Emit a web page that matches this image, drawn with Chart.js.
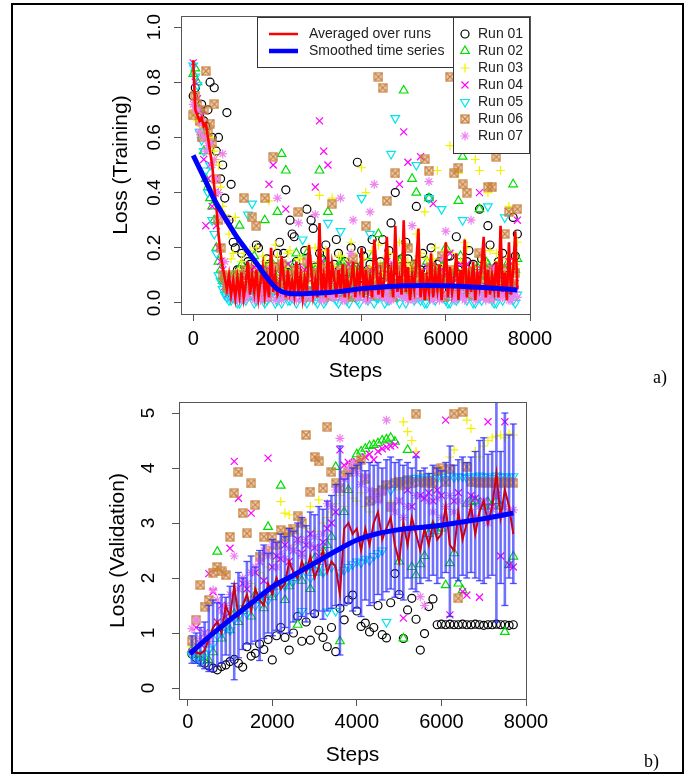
<!DOCTYPE html>
<html>
<head>
<meta charset="utf-8">
<script src="https://cdn.jsdelivr.net/npm/chart.js@4.4.1/dist/chart.umd.min.js"></script>
<style>
body { margin: 0; background: #fff; }
#wrap { position: relative; width: 688px; height: 775px; background: #fff; overflow: hidden; }
#frame { position: absolute; left: 11px; top: 3px; width: 673px; height: 771px; border: 2px solid #000; box-sizing: border-box; }
canvas { position: absolute; left: 0; }
.tag { position: absolute; font-family: "Liberation Serif", "Times New Roman", serif; font-size: 18px; color: #000; }
</style>
</head>
<body>
<div id="wrap">
  <div id="frame"></div>
  <canvas id="train" width="688" height="388" style="top:0;width:688px;height:388px"></canvas>
  <canvas id="valid" width="688" height="387" style="top:388px;width:688px;height:387px"></canvas>
  <div class="tag" style="left:653px;top:367px">a)</div>
  <div class="tag" style="left:644px;top:751px">b)</div>
</div>
<script>
/* two panels: training loss (a) and validation loss (b) of 7 runs */

const runNames = ['Run 01', 'Run 02', 'Run 03', 'Run 04', 'Run 05', 'Run 06', 'Run 07'];
const lineNames = ['Averaged over runs', 'Smoothed time series'];
const stepTicks = [0, 2000, 4000, 6000, 8000];
const trainTicks = [0, 0.2, 0.4, 0.6, 0.8, 1.0];
const validTicks = [0, 1, 2, 3, 4, 5];

// panel a - run points every 100 steps, plus the ones in between
const trainSteps = [0,100,200,300,400,500,600,700,800,900,1000,1100,1200,1300,1400,1500,1600,1700,1800,1900,
  2000,2100,2200,2300,2400,2500,2600,2700,2800,2900,3000,3100,3200,3300,3400,3500,3600,3700,3800,3900,
  4000,4100,4200,4300,4400,4500,4600,4700,4800,4900,5000,5100,5200,5300,5400,5500,5600,5700,5800,5900,
  6000,6100,6200,6300,6400,6500,6600,6700,6800,6900,7000,7100,7200,7300,7400,7500,7600,7700];
const trainMidSteps = [50,150,250,350,450,550,650,750,850,950,1050,1150,1250,1350,1450,1550,1650,1750,1850,1950,
  2050,2150,2250,2350,2450,2550,2650,2750,2850,2950,3050,3150,3250,3350,3450,3550,3650,3750,3850,3950,
  4050,4150,4250,4350,4450,4550,4650,4750,4850,4950,5050,5150,5250,5350,5450,5550,5650,5750,5850,5950,
  6050,6150,6250,6350,6450,6550,6650,6750,6850,6950,7050,7150,7250,7350,7450,7550,7650];

const trainRun01 = [0.75,0.70,0.72,0.64,0.80,0.78,0.60,0.50,0.69,
  0.43,0.20,0.12,0.08,0.15,0.06,0.21,0.10,0.05,
  0.14,0.09,0.18,0.07,0.41,0.30,0.24,0.11,0.06,
  0.34,0.30,0.13,0.18,0.09,0.05,0.12,0.23,0.08,
  0.15,0.06,0.10,0.51,0.19,0.07,0.14,0.09,0.12,
  0.23,0.05,0.29,0.40,0.11,0.08,0.16,0.07,0.35,
  0.12,0.06,0.38,0.10,0.14,0.05,0.09,0.17,0.08,
  0.12,0.06,0.15,0.09,0.07,0.34,0.11,0.28,0.06,
  0.13,0.08,0.10,0.05,0.31,0.25];
const trainRun02 = [0.83,0.80,0.62,0.45,0.38,0.30,0.15,0.08,0.05,
  0.04,0.10,0.28,0.06,0.02,0.12,0.04,0.08,0.30,
  0.03,0.11,0.33,0.54,0.48,0.05,0.14,0.02,0.09,
  0.18,0.04,0.12,0.48,0.06,0.33,0.02,0.10,0.15,
  0.03,0.08,0.13,0.05,0.02,0.11,0.07,0.04,0.25,
  0.09,0.03,0.12,0.06,0.15,0.77,0.04,0.45,0.40,
  0.08,0.02,0.38,0.10,0.05,0.13,0.20,0.03,0.09,
  0.37,0.53,0.06,0.11,0.02,0.34,0.08,0.14,0.05,
  0.10,0.03,0.12,0.07,0.43,0.16];
const trainRun03 = [0.70,0.66,0.64,0.62,0.60,0.55,0.50,0.35,0.30,
  0.16,0.31,0.12,0.18,0.07,0.14,0.20,0.09,0.15,
  0.37,0.10,0.17,0.06,0.13,0.19,0.08,0.16,0.11,
  0.07,0.15,0.20,0.39,0.10,0.14,0.38,0.09,0.17,
  0.12,0.06,0.18,0.10,0.49,0.40,0.13,0.08,0.21,
  0.11,0.17,0.07,0.14,0.22,0.09,0.15,0.12,0.25,
  0.18,0.33,0.10,0.16,0.48,0.08,0.19,0.57,0.13,
  0.47,0.11,0.20,0.09,0.52,0.48,0.15,0.40,0.12,
  0.18,0.48,0.10,0.35,0.14,0.22];
const trainRun04 = [0.87,0.74,0.68,0.28,0.50,0.40,0.20,0.12,0.03,
  0.02,0.06,0.01,0.09,0.03,0.12,0.05,0.02,0.08,
  0.43,0.50,0.04,0.10,0.34,0.02,0.07,0.13,0.03,
  0.09,0.05,0.42,0.66,0.55,0.50,0.04,0.11,0.02,
  0.08,0.14,0.03,0.06,0.10,0.02,0.12,0.05,0.09,
  0.03,0.15,0.06,0.02,0.43,0.62,0.51,0.08,0.04,
  0.53,0.10,0.03,0.36,0.07,0.12,0.02,0.18,0.05,
  0.09,0.03,0.14,0.06,0.10,0.40,0.02,0.08,0.13,
  0.04,0.09,0.03,0.15,0.06,0.30];
const trainRun05 = [0.86,0.79,0.59,0.48,0.50,0.25,0.10,0.05,0.02,
  0.01,0.03,0.00,0.02,0.32,0.36,0.01,0.04,0.00,
  0.02,0.05,0.01,0.00,0.03,0.01,0.06,0.02,0.23,
  0.00,0.04,0.01,0.02,0.00,0.29,0.03,0.01,0.26,
  0.02,0.00,0.05,0.01,0.38,0.03,0.25,0.00,0.02,
  0.04,0.01,0.54,0.67,0.00,0.03,0.02,0.05,0.50,
  0.01,0.00,0.38,0.02,0.04,0.34,0.01,0.00,0.03,
  0.02,0.30,0.01,0.05,0.00,0.02,0.03,0.35,0.01,
  0.00,0.04,0.31,0.02,0.01,0.03];
const trainRun06 = [0.68,0.72,0.60,0.84,0.65,0.72,0.30,0.10,0.06,
  0.08,0.04,0.10,0.38,0.06,0.31,0.28,0.09,0.38,
  0.12,0.53,0.05,0.14,0.08,0.03,0.10,0.33,0.07,
  0.15,0.04,0.11,0.06,0.02,0.09,0.36,0.05,0.12,
  0.03,0.08,0.16,0.04,0.10,0.28,0.06,0.11,0.82,
  0.78,0.37,0.05,0.47,0.13,0.07,0.20,0.03,0.14,
  0.09,0.52,0.48,0.12,0.05,0.17,0.08,0.82,0.47,
  0.49,0.43,0.40,0.10,0.06,0.18,0.09,0.42,0.42,
  0.53,0.12,0.25,0.33,0.07,0.34];
const trainRun07 = [0.72,0.70,0.65,0.55,0.58,0.52,0.40,0.54,0.30,
  0.05,0.02,0.04,0.01,0.03,0.06,0.02,0.01,0.04,
  0.02,0.05,0.38,0.01,0.03,0.02,0.04,0.29,0.01,
  0.03,0.02,0.32,0.05,0.01,0.04,0.02,0.03,0.38,
  0.01,0.04,0.30,0.02,0.05,0.01,0.33,0.43,0.03,
  0.02,0.04,0.01,0.03,0.06,0.02,0.01,0.28,0.04,
  0.02,0.05,0.44,0.01,0.03,0.02,0.26,0.04,0.01,
  0.03,0.02,0.05,0.30,0.01,0.04,0.02,0.03,0.01,
  0.05,0.02,0.04,0.01,0.03,0.02];

const trainMid01 = [0.78,0.68,0.66,0.70,0.60,0.55,0.45,0.38,0.30,0.22,0.12,
  0.18,0.10,0.14,0.07,0.20,0.12,0.16,0.09,0.13,0.22,0.18,
  0.11,0.25,0.15,0.08,0.19,0.12,0.27,0.10,0.16,0.21,0.09,
  0.14,0.18,0.11,0.06,0.20,0.13,0.09,0.17,0.12,0.23,0.08,
  0.15,0.10,0.19,0.13,0.07,0.16,0.22,0.11,0.14,0.09,0.18,
  0.12,0.20,0.08,0.15,0.11,0.17,0.09,0.24,0.13,0.10,0.19,
  0.14,0.08,0.16,0.12,0.21,0.10,0.15,0.18,0.09,0.13,0.17];
const trainMid02 = [0.85,0.70,0.55,0.42,0.35,0.20,0.12,0.08,0.06,0.10,0.05,
  0.14,0.03,0.09,0.17,0.06,0.12,0.04,0.15,0.08,0.11,0.03,
  0.13,0.07,0.18,0.05,0.10,0.14,0.04,0.09,0.16,0.06,0.12,
  0.03,0.08,0.15,0.05,0.11,0.07,0.13,0.04,0.10,0.17,0.06,
  0.09,0.14,0.03,0.12,0.07,0.16,0.05,0.10,0.13,0.04,0.08,
  0.15,0.06,0.11,0.03,0.14,0.09,0.05,0.12,0.17,0.07,0.10,
  0.04,0.13,0.08,0.15,0.06,0.11,0.03,0.09,0.14,0.05,0.12];
const trainMid03 = [0.68,0.65,0.63,0.60,0.57,0.52,0.42,0.32,0.25,0.18,0.10,
  0.15,0.08,0.19,0.12,0.06,0.17,0.10,0.14,0.21,0.09,0.13,
  0.18,0.07,0.12,0.16,0.10,0.20,0.08,0.14,0.11,0.19,0.06,
  0.13,0.17,0.09,0.15,0.22,0.11,0.07,0.16,0.12,0.19,0.10,
  0.14,0.08,0.18,0.12,0.15,0.09,0.21,0.13,0.07,0.17,0.11,
  0.16,0.10,0.20,0.08,0.14,0.12,0.18,0.09,0.15,0.22,0.11,
  0.13,0.07,0.17,0.10,0.19,0.12,0.15,0.08,0.16,0.11,0.14];
const trainMid04 = [0.80,0.70,0.52,0.45,0.35,0.28,0.15,0.06,0.04,0.02,0.07,
  0.03,0.10,0.05,0.13,0.02,0.08,0.04,0.11,0.06,0.03,0.09,
  0.14,0.04,0.07,0.02,0.12,0.05,0.09,0.03,0.15,0.06,0.08,
  0.02,0.11,0.04,0.07,0.13,0.03,0.10,0.05,0.08,0.02,0.12,
  0.06,0.04,0.09,0.14,0.03,0.07,0.11,0.05,0.02,0.10,0.06,
  0.13,0.04,0.08,0.03,0.11,0.05,0.09,0.02,0.14,0.07,0.04,
  0.10,0.03,0.12,0.06,0.08,0.02,0.11,0.05,0.09,0.03,0.07];
const trainMid05 = [0.82,0.62,0.55,0.40,0.30,0.18,0.08,0.03,0.01,0.02,0.00,
  0.04,0.01,0.03,0.00,0.05,0.02,0.01,0.04,0.00,0.03,0.06,
  0.01,0.02,0.00,0.04,0.01,0.05,0.02,0.00,0.03,0.01,0.04,
  0.02,0.00,0.06,0.01,0.03,0.02,0.00,0.04,0.01,0.05,0.02,
  0.03,0.00,0.01,0.04,0.02,0.06,0.00,0.03,0.01,0.02,0.05,
  0.00,0.04,0.01,0.03,0.02,0.00,0.05,0.01,0.04,0.02,0.03,
  0.00,0.06,0.01,0.02,0.04,0.00,0.03,0.01,0.05,0.02,0.00];
const trainMid06 = [0.75,0.66,0.70,0.62,0.58,0.45,0.20,0.09,0.05,0.10,0.07,
  0.03,0.12,0.06,0.09,0.04,0.11,0.02,0.08,0.13,0.05,0.10,
  0.03,0.07,0.12,0.04,0.09,0.02,0.11,0.06,0.08,0.13,0.03,
  0.10,0.05,0.07,0.12,0.02,0.09,0.04,0.11,0.06,0.08,0.03,
  0.13,0.05,0.10,0.02,0.07,0.12,0.04,0.09,0.06,0.11,0.03,
  0.08,0.13,0.05,0.10,0.02,0.07,0.12,0.04,0.09,0.06,0.11,
  0.03,0.08,0.05,0.12,0.02,0.10,0.07,0.04,0.09,0.06,0.11];
const trainMid07 = [0.70,0.62,0.60,0.57,0.50,0.45,0.32,0.15,0.08,0.03,0.01,
  0.04,0.02,0.06,0.01,0.03,0.05,0.02,0.12,0.01,0.04,0.03,
  0.06,0.02,0.01,0.05,0.03,0.15,0.02,0.04,0.01,0.06,0.03,
  0.02,0.05,0.01,0.04,0.18,0.03,0.02,0.06,0.01,0.04,0.03,
  0.05,0.02,0.01,0.14,0.04,0.03,0.06,0.02,0.01,0.05,0.03,
  0.04,0.02,0.06,0.01,0.16,0.03,0.05,0.02,0.04,0.01,0.06,
  0.03,0.02,0.05,0.01,0.04,0.12,0.03,0.02,0.06,0.01,0.04];

// red averaged curve of panel a, every 50 steps
const trainAvgSteps = [0,50,100,150,200,250,300,350,400,450,500,550,600,650,700,750,800,850,900,950,
  1000,1050,1100,1150,1200,1250,1300,1350,1400,1450,1500,1550,1600,1650,1700,1750,1800,1850,1900,1950,
  2000,2050,2100,2150,2200,2250,2300,2350,2400,2450,2500,2550,2600,2650,2700,2750,2800,2850,2900,2950,
  3000,3050,3100,3150,3200,3250,3300,3350,3400,3450,3500,3550,3600,3650,3700,3750,3800,3850,3900,3950,
  4000,4050,4100,4150,4200,4250,4300,4350,4400,4450,4500,4550,4600,4650,4700,4750,4800,4850,4900,4950,
  5000,5050,5100,5150,5200,5250,5300,5350,5400,5450,5500,5550,5600,5650,5700,5750,5800,5850,5900,5950,
  6000,6050,6100,6150,6200,6250,6300,6350,6400,6450,6500,6550,6600,6650,6700,6750,6800,6850,6900,6950,
  7000,7050,7100,7150,7200,7250,7300,7350,7400,7450,7500,7550,7600,7650,7700];
const trainAvg = [0.88,0.70,0.68,0.66,0.67,0.64,0.65,0.60,0.55,0.50,
  0.42,0.35,0.25,0.18,0.13,0.09,0.05,0.10,0.03,0.08,
  0.02,0.09,0.03,0.11,0.02,0.07,0.15,0.03,0.10,0.04,
  0.12,0.02,0.08,0.13,0.03,0.09,0.02,0.20,0.04,0.10,
  0.03,0.05,0.17,0.09,0.02,0.12,0.04,0.08,0.03,0.15,
  0.03,0.10,0.02,0.09,0.04,0.21,0.13,0.03,0.08,0.02,
  0.29,0.04,0.10,0.02,0.20,0.03,0.14,0.09,0.02,0.12,
  0.05,0.14,0.02,0.10,0.04,0.08,0.15,0.02,0.11,0.06,
  0.20,0.02,0.12,0.04,0.09,0.02,0.23,0.14,0.03,0.10,
  0.02,0.12,0.24,0.05,0.11,0.02,0.28,0.04,0.09,0.03,
  0.30,0.04,0.13,0.01,0.10,0.05,0.15,0.27,0.02,0.12,
  0.01,0.09,0.04,0.18,0.02,0.11,0.05,0.14,0.01,0.10,
  0.22,0.02,0.13,0.04,0.09,0.18,0.01,0.12,0.05,0.23,
  0.02,0.10,0.04,0.15,0.01,0.11,0.06,0.14,0.24,0.02,
  0.12,0.03,0.10,0.05,0.15,0.02,0.28,0.04,0.11,0.01,
  0.22,0.03,0.12,0.26,0.05];

const trainSmoothSteps = [0,250,500,750,1000,1250,1500,1750,2000,2250,2500,3000,3500,4000,4500,5000,5500,6000,6500,7000,7500,7700];
const trainSmooth = [0.535,0.456,0.375,0.31,0.248,0.195,0.145,0.092,0.05,0.035,0.033,0.036,0.042,0.052,0.058,0.062,0.063,0.062,0.059,0.055,0.05,0.047];

// panel b - validation every 100 steps
const validSteps = [100,200,300,400,500,600,700,800,900,1000,1100,1200,1300,1400,1500,1600,1700,1800,1900,
  2000,2100,2200,2300,2400,2500,2600,2700,2800,2900,3000,3100,3200,3300,3400,3500,3600,3700,3800,3900,
  4000,4100,4200,4300,4400,4500,4600,4700,4800,4900,5000,5100,5200,5300,5400,5500,5600,5700,5800,5900,
  6000,6100,6200,6300,6400,6500,6600,6700,6800,6900,7000,7100,7200,7300,7400,7500,7600,7700];

const validRun01 = [0.62,0.55,0.50,0.45,0.40,0.36,0.33,0.39,0.42,0.48,0.52,
  0.45,0.38,0.75,0.58,0.63,0.80,0.70,0.88,0.51,0.95,1.10,
  0.92,0.69,1.00,1.30,0.85,1.20,0.87,1.35,1.05,0.92,0.75,
  1.10,0.66,1.45,1.24,1.60,1.69,1.40,1.12,1.18,1.02,1.10,
  1.50,0.97,0.91,1.55,2.08,1.70,0.90,1.42,1.63,1.25,0.69,
  0.99,1.48,1.62,1.15,1.16,1.15,1.16,1.15,1.15,1.16,1.15,
  1.15,1.16,1.15,1.14,1.15,1.15,1.16,1.15,1.15,1.14,1.15];
const validRun02 = [0.70,0.62,0.58,0.55,0.50,0.65,2.48,0.90,1.10,1.05,1.35,
  1.20,1.40,1.55,1.30,1.70,1.60,1.45,2.93,1.65,1.90,3.68,
  1.60,1.85,2.00,1.15,1.95,2.20,1.80,2.35,2.10,2.50,2.60,
  2.75,4.02,0.85,3.20,3.60,4.10,4.25,4.30,4.35,4.40,4.42,
  4.45,4.50,4.52,4.55,4.48,2.30,0.90,4.33,2.20,2.05,2.25,
  2.40,2.80,2.95,2.85,2.90,1.87,2.27,2.45,1.90,1.78,3.35,
  3.38,3.40,3.35,3.30,3.38,3.32,3.40,3.30,1.02,2.24,2.39];
const validRun03 = [0.75,0.68,0.60,0.90,0.85,1.05,1.20,1.10,1.30,1.25,1.60,
  1.50,1.75,1.65,1.90,1.80,2.10,2.00,2.20,2.40,2.30,3.39,
  3.18,3.15,2.60,2.80,2.70,2.90,3.30,2.85,3.42,3.00,3.10,
  3.20,3.35,3.50,3.30,3.60,3.45,3.40,3.55,3.30,3.20,3.45,
  3.60,3.50,3.70,3.40,3.80,3.60,4.84,4.66,4.50,4.30,3.90,
  3.70,3.85,3.60,3.75,3.90,4.00,4.20,4.33,3.80,4.10,4.87,
  4.72,4.30,4.20,4.40,4.50,4.55,4.58,4.60,4.55,4.62,4.60];
const validRun04 = [0.65,1.10,0.80,1.00,2.08,1.75,1.20,1.50,1.30,2.54,4.12,
  3.45,1.90,1.80,3.18,2.10,2.30,1.95,4.18,2.20,2.40,2.35,
  2.60,2.30,2.50,2.70,2.45,2.60,2.80,2.55,2.40,2.65,2.90,
  3.00,3.20,4.33,4.05,4.10,4.08,4.12,4.15,4.20,4.25,4.15,
  4.30,4.35,4.38,4.40,4.42,3.40,1.27,3.60,3.30,4.24,3.50,
  3.45,3.55,3.40,3.60,3.50,4.87,1.33,3.40,3.55,1.75,1.69,
  3.50,3.45,1.65,3.40,4.84,3.30,3.50,2.40,4.84,2.24,2.20];
const validRun05 = [0.60,0.55,0.48,0.62,0.70,0.80,0.95,1.00,1.10,1.05,1.25,
  1.30,1.45,1.35,1.55,1.50,1.65,1.70,1.60,1.80,1.75,1.90,
  1.85,2.00,1.95,2.05,1.40,2.10,2.00,2.15,2.20,2.10,1.39,
  2.20,1.40,2.10,2.15,2.20,2.25,2.30,2.28,2.35,2.32,2.40,
  2.45,2.50,1.20,3.60,3.70,3.75,3.78,3.80,3.78,3.82,3.80,
  3.83,3.80,3.85,3.82,3.84,3.80,3.86,3.83,3.85,3.84,3.82,
  3.85,3.83,3.86,3.84,3.85,3.82,3.86,3.84,3.85,3.83,3.85];
const validRun06 = [0.85,1.24,1.87,1.48,1.60,2.10,2.20,2.12,2.05,2.75,3.54,
  3.93,3.18,2.81,3.72,3.33,2.39,2.75,2.50,2.75,2.60,2.87,
  2.75,2.84,2.90,3.12,3.00,4.60,3.57,4.20,4.12,3.63,4.75,
  3.93,3.72,3.63,3.87,3.93,4.00,4.05,4.15,3.80,3.40,3.55,
  3.45,3.60,3.69,3.30,3.72,3.75,3.70,3.78,3.72,4.99,3.74,
  3.73,3.76,3.72,3.95,4.00,3.74,3.99,4.99,1.63,5.02,4.02,
  3.75,3.74,3.73,3.75,3.72,3.74,3.73,3.75,3.72,3.74,3.73];
const validRun07 = [1.08,1.24,0.90,1.00,0.85,1.78,1.60,1.40,1.50,1.70,2.40,
  1.80,2.00,1.90,2.10,2.20,2.30,2.50,2.40,2.60,2.20,2.45,
  2.35,2.55,2.50,2.65,2.40,2.70,2.60,2.75,2.55,2.80,3.35,
  3.30,3.60,4.54,3.80,4.00,4.10,3.90,3.70,3.85,3.60,3.50,
  3.40,3.55,4.87,3.30,3.20,3.40,3.10,3.30,2.90,3.50,1.66,
  1.50,3.40,3.20,3.45,3.10,3.30,3.50,3.20,3.40,3.00,3.35,
  3.20,3.10,3.30,3.40,3.00,3.25,3.50,3.15,3.30,3.20,3.24];

const validAvg = [0.70,0.65,0.62,0.68,0.90,1.10,1.20,1.00,1.50,1.30,1.85,
  1.30,1.50,1.70,1.40,1.80,1.60,1.50,1.90,1.70,2.00,1.80,
  1.90,2.30,2.10,2.00,2.30,2.10,2.40,2.00,2.20,2.50,2.10,
  2.30,2.20,1.70,2.90,3.00,2.80,2.90,2.50,2.90,2.60,3.00,
  3.20,2.70,2.90,3.10,2.60,2.30,3.00,2.60,3.10,2.80,2.50,
  2.90,2.60,3.00,2.70,2.80,3.30,2.60,2.50,3.20,2.70,3.00,
  3.30,2.80,3.20,3.40,3.00,3.30,3.90,3.10,3.60,3.30,2.80];
const validLow = [0.45,0.45,0.40,0.35,0.30,0.30,0.40,0.45,0.60,0.50,0.15,
  0.55,0.70,0.80,0.80,0.85,0.50,0.90,1.00,0.95,1.05,1.00,
  1.10,1.00,1.20,1.25,1.30,1.20,1.35,1.30,1.40,1.25,1.40,
  1.45,1.50,0.60,1.50,1.55,1.40,1.45,1.30,1.60,1.50,1.55,
  1.70,1.60,1.75,1.80,1.65,1.70,1.60,2.00,1.80,1.75,1.90,
  2.00,1.95,2.05,1.90,2.00,2.10,1.30,2.00,1.95,2.05,2.00,
  2.10,2.00,1.95,1.90,2.00,2.05,1.20,1.90,1.50,2.00,1.90];
const validHigh = [0.95,1.00,1.10,1.20,1.50,1.60,1.55,1.70,1.65,1.85,1.90,
  2.10,2.00,2.30,2.40,2.20,2.50,2.60,2.45,2.70,2.65,2.80,
  2.75,2.90,2.85,3.00,3.10,2.95,3.20,3.15,3.30,3.25,3.40,
  3.50,3.70,4.40,3.80,3.90,4.00,4.05,4.10,3.95,4.10,4.05,
  4.10,4.00,4.15,4.20,4.10,4.15,4.05,4.10,4.00,4.20,3.95,
  4.00,3.90,4.05,4.00,3.95,4.10,4.40,4.05,4.15,4.20,4.10,
  4.20,4.30,4.50,4.55,4.25,4.30,5.20,4.30,5.00,4.60,4.80];

const validSmoothSteps = [50,500,1000,1500,2000,2500,3000,3500,4000,4500,5000,5500,6000,6500,7000,7500,7700];
const validSmooth = [0.62,0.93,1.24,1.54,1.84,2.05,2.27,2.49,2.69,2.81,2.88,2.92,2.96,3.02,3.08,3.15,3.18];

const trainRuns = [trainRun01, trainRun02, trainRun03, trainRun04, trainRun05, trainRun06, trainRun07];
const trainMids = [trainMid01, trainMid02, trainMid03, trainMid04, trainMid05, trainMid06, trainMid07];
const validRuns = [validRun01, validRun02, validRun03, validRun04, validRun05, validRun06, validRun07];

Chart.defaults.font.family = "'Liberation Sans', Arial, Helvetica, sans-serif";
Chart.defaults.color = '#000';

// pch 7 lookalike: square with a cross inside
function squareCross(color) {
    const c = document.createElement('canvas');
    c.width = 10;
    c.height = 10;
    const g = c.getContext('2d');
    g.fillStyle = 'rgba(205, 133, 63, 0.35)';
    g.fillRect(1, 1, 8, 8);
    g.strokeStyle = color;
    g.lineWidth = 1.2;
    g.strokeRect(1, 1, 8, 8);
    g.beginPath();
    g.moveTo(1, 1); g.lineTo(9, 9);
    g.moveTo(9, 1); g.lineTo(1, 9);
    g.stroke();
    return c;
}

const runLook = [
    { style: 'circle', color: '#000000', radius: 4, rotation: 0 },
    { style: 'triangle', color: '#00dd00', radius: 5, rotation: 0 },
    { style: 'cross', color: '#f2f200', radius: 4.5, rotation: 0 },
    { style: 'crossRot', color: '#ff00ff', radius: 5, rotation: 0 },
    { style: 'triangle', color: '#00e5ee', radius: 5, rotation: 180 },
    { style: squareCross('#c8813f'), color: '#c8813f', radius: 5, rotation: 0 },
    { style: 'star', color: '#ee82ee', radius: 4.5, rotation: 0 }
];

// stepSets / runSets: pairs of (x array, list of 7 run arrays)
function runDatasets(stepSets, runSets, firstOrder) {
    return runNames.map((name, k) => {
        let data = [];
        stepSets.forEach((steps, j) => {
            data = data.concat(steps.map((s, i) => ({ x: s, y: runSets[j][k][i] })));
        });
        return {
            label: name,
            data: data,
            pointStyle: runLook[k].style,
            pointRotation: runLook[k].rotation,
            pointRadius: runLook[k].radius,
            pointBorderColor: runLook[k].color,
            pointBackgroundColor: 'rgba(0,0,0,0)',
            pointBorderWidth: 1.2,
            showLine: false,
            order: firstOrder + (runNames.length - 1 - k)
        };
    });
}

function lineDataset(label, steps, values, color, width, smooth, order) {
    return {
        label: label,
        data: steps.map((s, i) => ({ x: s, y: values[i] })),
        showLine: true,
        borderColor: color,
        borderWidth: width,
        pointRadius: 0,
        tension: smooth ? 0.4 : 0,
        cubicInterpolationMode: smooth ? 'monotone' : 'default',
        order: order
    };
}

function stepScale(min, tickPad, titlePad, height) {
    return {
        type: 'linear', position: 'bottom', min: min, max: 8000, bounds: 'data',
        afterBuildTicks: s => { s.ticks = stepTicks.map(v => ({ value: v })); },
        afterFit: s => { s.height = height; s.paddingLeft = 0; s.paddingRight = 0; },
        ticks: { font: { size: 20 }, padding: tickPad, maxRotation: 0, minRotation: 0, autoSkip: false, callback: v => String(v) },
        grid: { drawOnChartArea: false, color: '#555', tickLength: 7, tickWidth: 1 },
        border: { display: false },
        title: { display: true, text: 'Steps', font: { size: 21 }, padding: { top: 0, bottom: titlePad } }
    };
}

function lossScale(min, max, tickVals, digits, text, tickPad, titlePad, width) {
    return {
        type: 'linear', position: 'left', min: min, max: max, bounds: 'data',
        afterBuildTicks: s => { s.ticks = tickVals.map(v => ({ value: v })); },
        afterFit: s => { s.width = width; s.paddingTop = 0; s.paddingBottom = 0; },
        ticks: { font: { size: 19 }, padding: tickPad, minRotation: 90, maxRotation: 90, crossAlign: 'center', autoSkip: false, callback: v => v.toFixed(digits) },
        grid: { drawOnChartArea: false, color: '#555', tickLength: 7, tickWidth: 1 },
        border: { display: false },
        title: { display: true, text: text, font: { size: 21 }, padding: { top: titlePad, bottom: 0 } }
    };
}

const boxPlugin = {
    id: 'plotBox',
    afterDatasetsDraw(chart) {
        const a = chart.chartArea;
        const ctx = chart.ctx;
        ctx.save();
        ctx.strokeStyle = '#555';
        ctx.lineWidth = 1;
        ctx.strokeRect(Math.round(a.left) + 0.5, Math.round(a.top) + 0.5, Math.round(a.right - a.left), Math.round(a.bottom - a.top));
        ctx.restore();
    }
};

// R style legends: line legend box + run symbol box, top right
const legendPlugin = {
    id: 'rLegend',
    afterDraw(chart) {
        const ctx = chart.ctx;
        const a = chart.chartArea;
        const ds = chart.data.datasets;
        const rowH = 17;
        const rw = 76, rh = rowH * runNames.length + 17;
        const rx = Math.round(a.right) - rw - 1, ry = Math.round(a.top) + 1;
        const lw = 196, lh = 50;
        const lx = rx - lw, ly = ry;
        ctx.save();
        ctx.font = "14px 'Liberation Sans', Arial, sans-serif";
        ctx.textBaseline = 'middle';
        ctx.textAlign = 'left';
        ctx.lineWidth = 1;
        ctx.fillStyle = '#fff';
        ctx.fillRect(lx, ly, lw, lh);
        ctx.fillRect(rx, ry, rw, rh);
        ctx.strokeStyle = '#333';
        ctx.strokeRect(lx + 0.5, ly + 0.5, lw, lh);
        ctx.strokeRect(rx + 0.5, ry + 0.5, rw, rh);

        lineNames.forEach((name, i) => {
            const d = ds.find(x => x.label === name);
            const y = ly + rowH * (i + 1);
            ctx.strokeStyle = d.borderColor;
            ctx.lineWidth = i === 0 ? 2.5 : 4.5;
            ctx.beginPath();
            ctx.moveTo(lx + 12, y);
            ctx.lineTo(lx + 41, y);
            ctx.stroke();
            ctx.fillStyle = '#222';
            ctx.fillText(name, lx + 52, y);
        });

        runNames.forEach((name, k) => {
            const y = ry + rowH * (k + 1);
            ctx.strokeStyle = runLook[k].color;
            ctx.fillStyle = 'rgba(0,0,0,0)';
            ctx.lineWidth = 1.2;
            Chart.helpers.drawPoint(ctx, { pointStyle: runLook[k].style, rotation: runLook[k].rotation, radius: runLook[k].radius, borderWidth: 1.2 }, rx + 12, y);
            ctx.fillStyle = '#222';
            ctx.fillText(name, rx + 25, y);
        });
        ctx.restore();
    }
};

const common = {
    responsive: false,
    animation: false,
    events: [],
    plugins: { legend: { display: false }, tooltip: { enabled: false } }
};

new Chart(document.getElementById('train'), {
    type: 'scatter',
    data: {
        datasets: [
            lineDataset(lineNames[0], trainAvgSteps, trainAvg, '#ff0000', 2.6, false, 1),
            lineDataset(lineNames[1], trainSmoothSteps, trainSmooth, '#0000ff', 5, true, 0)
        ].concat(runDatasets([trainSteps, trainMidSteps], [trainRuns, trainMids], 2))
    },
    options: Object.assign({}, common, {
        layout: { padding: { left: 100, right: 158, top: 16, bottom: 0 } },
        scales: {
            x: stepScale(-290, 6, 4, 74),
            y: lossScale(-0.04, 1.04, trainTicks, 1, 'Loss (Training)', 6, 9, 81)
        }
    }),
    plugins: [boxPlugin, legendPlugin]
});

// error bars: vertical segment low-high per step, broken by null, caps as point lines
const errBars = [];
validSteps.forEach((s, i) => {
    errBars.push({ x: s, y: validLow[i] }, { x: s, y: validHigh[i] }, { x: s, y: null });
});

new Chart(document.getElementById('valid'), {
    type: 'scatter',
    data: {
        datasets: [
            lineDataset(lineNames[0], validSteps, validAvg, '#c80018', 2, false, 1),
            lineDataset(lineNames[1], validSmoothSteps, validSmooth, '#0000ff', 5, true, 0),
            {
                label: 'sd',
                data: errBars,
                showLine: true,
                spanGaps: false,
                borderColor: 'rgba(45, 45, 255, 0.68)',
                borderWidth: 2.6,
                pointStyle: 'line',
                pointRadius: 3.5,
                pointBorderColor: 'rgba(40, 40, 255, 0.8)',
                pointBorderWidth: 1.3,
                order: 2
            }
        ].concat(runDatasets([validSteps], [validRuns], 3))
    },
    options: Object.assign({}, common, {
        layout: { padding: { left: 100, right: 162, top: 14, bottom: 0 } },
        scales: {
            x: stepScale(-206, 4, 7, 76),
            y: lossScale(-0.2, 5.2, validTicks, 0, 'Loss (Validation)', 18, 6, 79)
        }
    }),
    plugins: [boxPlugin]
});
</script>
</body>
</html>
